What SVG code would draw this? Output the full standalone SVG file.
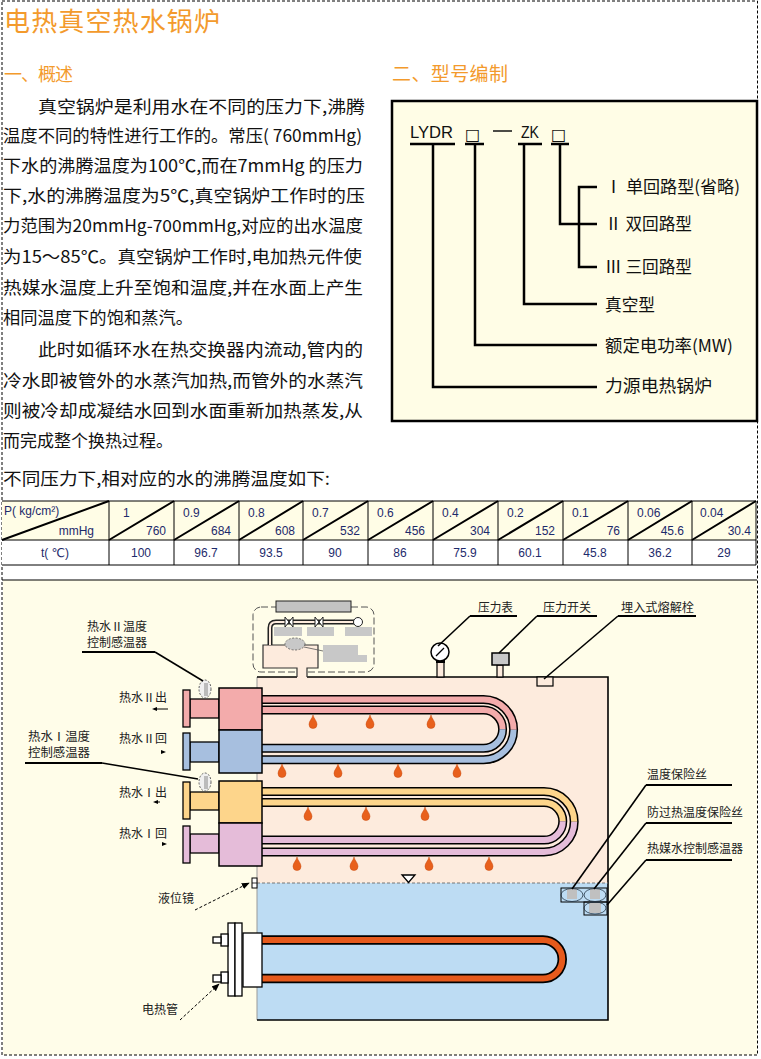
<svg xmlns="http://www.w3.org/2000/svg" width="761" height="1059" viewBox="0 0 761 1059">
<defs>
<style>
.cn{font-family:"Noto Sans CJK SC","Noto Sans",sans-serif;fill:#111;}
.body{font-size:17px;}
.ttl{fill:#f39a2c;}
.sm{font-size:12px;fill:#222;}
.num{font-family:"Liberation Sans","DejaVu Sans",sans-serif;font-size:12px;fill:#1d2a6b;}
.tb{stroke:#000;stroke-width:1;fill:none;}
.diag{stroke:#000;stroke-width:2;}
.ld{stroke:#000;stroke-width:1.6;fill:none;}
.ul{stroke:#000;stroke-width:2.2;fill:none;}
.mb{stroke:#000;stroke-width:2.5;fill:none;}
.dash{stroke:#000;stroke-width:1;stroke-dasharray:3,2;fill:none;}
.box{font-family:"DejaVu Sans",sans-serif;font-size:16px;fill:#111;}
</style>
<path id="drop" d="M0,-7 C1,-3 4,-1 4,2.5 A4,4 0 0 1 -4,2.5 C-4,-1 -1,-3 0,-7 Z" fill="#e8601c" stroke="#c84a10" stroke-width="0.5"/>
<marker id="ah" viewBox="0 0 10 10" refX="9" refY="5" markerWidth="8" markerHeight="8" orient="auto" markerUnits="userSpaceOnUse">
<path d="M0,1 L10,5 L0,9 Z" fill="#000"/>
</marker>
</defs>

<rect x="0" y="0" width="761" height="1059" fill="#fff"/>
<g id="page-border">
<rect x="3" y="580" width="754" height="475" fill="#fffde9"/>
<line x1="2" y1="580" x2="757" y2="580" stroke="#000" stroke-width="1.2"/>
<rect x="2" y="1" width="755.5" height="1054" class="dash"/>
</g>

<g id="section1">
<text class="cn ttl" x="4" y="31" font-size="26" textLength="216" lengthAdjust="spacing">电热真空热水锅炉</text>
<text class="cn ttl" x="4" y="81" font-size="18" textLength="69" lengthAdjust="spacing">一、概述</text>
<text class="cn body" x="38" y="113" textLength="327" lengthAdjust="spacingAndGlyphs">真空锅炉是利用水在不同的压力下,沸腾</text>
<text class="cn body" x="3" y="142" textLength="359" lengthAdjust="spacingAndGlyphs">温度不同的特性进行工作的。常压( 760mmHg)</text>
<text class="cn body" x="3" y="172" textLength="360" lengthAdjust="spacingAndGlyphs">下水的沸腾温度为100℃,而在7mmHg 的压力</text>
<text class="cn body" x="3" y="202" textLength="362" lengthAdjust="spacingAndGlyphs">下,水的沸腾温度为5℃,真空锅炉工作时的压</text>
<text class="cn body" x="3" y="232" textLength="360" lengthAdjust="spacingAndGlyphs">力范围为20mmHg-700mmHg,对应的出水温度</text>
<text class="cn body" x="3" y="263" textLength="359" lengthAdjust="spacingAndGlyphs">为15～85℃。真空锅炉工作时,电加热元件使</text>
<text class="cn body" x="3" y="294" textLength="360" lengthAdjust="spacingAndGlyphs">热媒水温度上升至饱和温度,并在水面上产生</text>
<text class="cn body" x="3" y="324" textLength="190" lengthAdjust="spacingAndGlyphs">相同温度下的饱和蒸汽。</text>
<text class="cn body" x="38" y="356" textLength="325" lengthAdjust="spacingAndGlyphs">此时如循环水在热交换器内流动,管内的</text>
<text class="cn body" x="3" y="387" textLength="360" lengthAdjust="spacingAndGlyphs">冷水即被管外的水蒸汽加热,而管外的水蒸汽</text>
<text class="cn body" x="3" y="417" textLength="360" lengthAdjust="spacingAndGlyphs">则被冷却成凝结水回到水面重新加热蒸发,从</text>
<text class="cn body" x="3" y="447" textLength="170" lengthAdjust="spacingAndGlyphs">而完成整个换热过程。</text>
<text class="cn body" x="3" y="485" textLength="327" lengthAdjust="spacingAndGlyphs">不同压力下,相对应的水的沸腾温度如下:</text>
</g>

<g id="section2">
<text class="cn ttl" x="392" y="81" font-size="19" textLength="116" lengthAdjust="spacing">二、型号编制</text>
<rect x="392" y="101" width="365" height="320" fill="#fffde6" stroke="#000" stroke-width="2.5"/>
<text x="410" y="138" font-family="Liberation Sans,sans-serif" font-size="16" fill="#111" textLength="43" lengthAdjust="spacingAndGlyphs">LYDR</text>
<text class="box" x="465" y="140">□</text>
<line x1="493" y1="131" x2="512" y2="131" stroke="#111" stroke-width="1.5"/>
<text x="521" y="138" font-family="Liberation Sans,sans-serif" font-size="16" fill="#111" textLength="18" lengthAdjust="spacingAndGlyphs">ZK</text>
<text class="box" x="551" y="140">□</text>
<g id="model-lines">
<path class="mb" d="M410,144 H455 M465,144 H484 M518,144 H542 M551,144 H569"/>
<path class="mb" d="M433,144 V387 H597"/>
<path class="mb" d="M475,144 V345 H597"/>
<path class="mb" d="M524,144 V304 H597"/>
<path class="mb" d="M560,144 V224 H597"/>
<path class="mb" d="M597,187 H579 V267 H597"/>
</g>
<text class="cn body" x="605" y="193" textLength="135" lengthAdjust="spacingAndGlyphs">Ⅰ 单回路型(省略)</text>
<text class="cn body" x="605" y="230" textLength="87" lengthAdjust="spacingAndGlyphs">Ⅱ 双回路型</text>
<text class="cn body" x="605" y="273" textLength="87" lengthAdjust="spacingAndGlyphs">Ⅲ 三回路型</text>
<text class="cn body" x="605" y="311" textLength="50" lengthAdjust="spacingAndGlyphs">真空型</text>
<text class="cn body" x="605" y="352" textLength="128" lengthAdjust="spacingAndGlyphs">额定电功率(MW)</text>
<text class="cn body" x="605" y="392" textLength="107" lengthAdjust="spacingAndGlyphs">力源电热锅炉</text>
</g>

<g id="table">
<rect x="2" y="501" width="754" height="39" fill="#fffde6"/>
<rect x="2" y="540" width="754" height="25" fill="#fff"/>
<path class="tb" d="M2,501 H756 M2,540 H756 M2,565 H756 M109,501 V565 M174,501 V565 M239,501 V565 M303,501 V565 M368,501 V565 M433,501 V565 M498,501 V565 M563,501 V565 M628,501 V565 M692,501 V565 M756,501 V565"/>
<path class="diag" d="M2,540 L109,501 M109,540 L174,501 M174,540 L239,501 M239,540 L303,501 M303,540 L368,501 M368,540 L433,501 M433,540 L498,501 M498,540 L563,501 M563,540 L628,501 M628,540 L692,501 M692,540 L756,501"/>
<text class="num" x="4" y="515">P( kg/cm²)</text>
<text class="num" x="94" y="535" text-anchor="end">mmHg</text>
<g class="num">
<text x="123" y="517">1</text><text x="183" y="517">0.9</text><text x="248" y="517">0.8</text><text x="312" y="517">0.7</text><text x="377" y="517">0.6</text><text x="442" y="517">0.4</text><text x="507" y="517">0.2</text><text x="572" y="517">0.1</text><text x="637" y="517">0.06</text><text x="700" y="517">0.04</text>
</g>
<g class="num" text-anchor="end">
<text x="166" y="535">760</text><text x="231" y="535">684</text><text x="295" y="535">608</text><text x="360" y="535">532</text><text x="425" y="535">456</text><text x="490" y="535">304</text><text x="555" y="535">152</text><text x="620" y="535">76</text><text x="684" y="535">45.6</text><text x="751" y="535">30.4</text>
</g>
<g class="num" text-anchor="middle">
<text x="55" y="557">t( ℃)</text>
<text x="141" y="557">100</text><text x="206" y="557">96.7</text><text x="271" y="557">93.5</text><text x="335" y="557">90</text><text x="400" y="557">86</text><text x="465" y="557">75.9</text><text x="530" y="557">60.1</text><text x="595" y="557">45.8</text><text x="660" y="557">36.2</text><text x="724" y="557">29</text>
</g>
</g>

<g id="boiler">
<rect x="257" y="677" width="351" height="206" fill="#fdebdd"/>
<rect x="257" y="883" width="351" height="137" fill="#bddcf3"/>
<line x1="257" y1="677" x2="257" y2="1020" stroke="#999" stroke-width="1"/>
<path d="M257,677 H297 M307,677 H608 V1020 H257" fill="none" stroke="#000" stroke-width="1.6"/>
<line x1="257" y1="883" x2="608" y2="883" stroke="#777" stroke-width="1" stroke-dasharray="3,2"/>
<polygon points="402,875 415,875 408.5,882.5" fill="#fff" stroke="#000" stroke-width="1.3"/>
</g>

<g id="control-box">
<rect x="253" y="607" width="121" height="65" rx="8" fill="none" stroke="#555" stroke-width="1" stroke-dasharray="7,3"/>
<rect x="276" y="601" width="75" height="11" fill="#c3c3c3" stroke="#222" stroke-width="1"/>
<rect x="297" y="666" width="10" height="12" fill="#fdebdd"/>
<rect x="263" y="645" width="55" height="23" fill="#fdebdd"/>
<path d="M297,677 V668 H263 V645 H318 V668 H307 V677" fill="none" stroke="#333" stroke-width="1.2"/>
<path d="M270,645 V628 Q270,622 276,622 H355" fill="none" stroke="#222" stroke-width="5"/>
<path d="M270,645 V628 Q270,622 276,622 H355" fill="none" stroke="#fdebdd" stroke-width="2"/>
<g fill="#fff" stroke="#222" stroke-width="1">
<path d="M285,617 L293,627 L293,617 L285,627 Z"/>
<path d="M315,617 L323,627 L323,617 L315,627 Z"/>
<circle cx="358" cy="622" r="4.5"/>
</g>
<rect x="274" y="627" width="28" height="9" fill="#c8c8c8"/>
<rect x="307" y="627" width="27" height="9" fill="#c8c8c8"/>
<rect x="345" y="627" width="27" height="9" fill="#c8c8c8"/>
<path d="M323,645 H358 V655 H367 V662 H323 Z" fill="#c8c8c8"/>
<line x1="304" y1="647" x2="323" y2="651" stroke="#555" stroke-width="0.8"/>
<ellipse cx="295" cy="644" rx="10" ry="6" fill="#c8c8c8" stroke="#555" stroke-width="0.8" stroke-dasharray="2,1.5"/>
</g>

<g id="pressure-gauge">
<rect x="437" y="662" width="7" height="15" fill="#fdebdd" stroke="#000" stroke-width="1.2"/>
<rect x="436" y="660" width="9" height="3" fill="#000"/>
<circle cx="440" cy="652" r="9" fill="#fff" stroke="#000" stroke-width="1.5"/>
<line x1="436" y1="656" x2="444" y2="648" stroke="#000" stroke-width="1.2"/>
</g>
<g id="pressure-switch">
<rect x="497" y="665" width="6" height="12" fill="#fdebdd" stroke="#000" stroke-width="1.2"/>
<rect x="492" y="653" width="17" height="12" fill="#c8c8c8" stroke="#000" stroke-width="1.5"/>
</g>
<g id="fusible-plug">
<rect x="537" y="677" width="16" height="9" fill="#fdebdd" stroke="#000" stroke-width="1.2"/>
</g>

<g id="coil-upper">
<path d="M262,699.6 H483.5 A30.1,30.1 0 0 1 483.5,759.8 H262" fill="none" stroke="#000" stroke-width="9"/>
<path d="M262,699.6 H483.5 A30.1,30.1 0 0 1 513.6,729.7" fill="none" stroke="#f3abab" stroke-width="6"/>
<path d="M513.6,729.7 A30.1,30.1 0 0 1 483.5,759.8 H262" fill="none" stroke="#a7bfdf" stroke-width="6"/>
<path d="M262,710.1 H483.5 A19.1,19.1 0 0 1 483.5,748.3 H262" fill="none" stroke="#000" stroke-width="9"/>
<path d="M262,710.1 H483.5 A19.1,19.1 0 0 1 502.6,729.2" fill="none" stroke="#f3abab" stroke-width="6"/>
<path d="M502.6,729.2 A19.1,19.1 0 0 1 483.5,748.3 H262" fill="none" stroke="#a7bfdf" stroke-width="6"/>
</g>
<g id="coil-lower">
<path d="M262,791.6 H544 A30.2,30.2 0 0 1 544,852 H262" fill="none" stroke="#000" stroke-width="9"/>
<path d="M262,791.6 H544 A30.2,30.2 0 0 1 574.2,821.8" fill="none" stroke="#fdd58b" stroke-width="6"/>
<path d="M574.2,821.8 A30.2,30.2 0 0 1 544,852 H262" fill="none" stroke="#e5bcd9" stroke-width="6"/>
<path d="M262,802.5 H544 A18.8,18.8 0 0 1 544,840.1 H262" fill="none" stroke="#000" stroke-width="9"/>
<path d="M262,802.5 H544 A18.8,18.8 0 0 1 562.8,821.3" fill="none" stroke="#fdd58b" stroke-width="6"/>
<path d="M562.8,821.3 A18.8,18.8 0 0 1 544,840.1 H262" fill="none" stroke="#e5bcd9" stroke-width="6"/>
</g>
<g id="heater-coil">
<path d="M262,940 H543 A19.25,19.25 0 0 1 543,978.5 H262" fill="none" stroke="#000" stroke-width="9.5"/>
<path d="M262,940 H543 A19.25,19.25 0 0 1 543,978.5 H262" fill="none" stroke="#e65a1c" stroke-width="6"/>
</g>

<g id="droplets">
<use href="#drop" x="313" y="722"/><use href="#drop" x="370" y="722"/><use href="#drop" x="431" y="722"/>
<use href="#drop" x="282" y="771"/><use href="#drop" x="338" y="771"/><use href="#drop" x="398" y="771"/><use href="#drop" x="457" y="771"/>
<use href="#drop" x="308" y="814"/><use href="#drop" x="366" y="814"/><use href="#drop" x="425" y="814"/>
<use href="#drop" x="297" y="864"/><use href="#drop" x="354" y="864"/><use href="#drop" x="429" y="864"/><use href="#drop" x="489" y="864"/>
</g>

<g id="header-II-out">
<rect x="190" y="699" width="29" height="19" fill="#f3abab" stroke="#000" stroke-width="1.3"/>
<rect x="183" y="690" width="7" height="37" fill="#f3abab" stroke="#000" stroke-width="1.3"/>
<rect x="219" y="688" width="43" height="42" fill="#f3abab" stroke="#000" stroke-width="1.5"/>
</g>
<g id="header-II-return">
<rect x="190" y="742" width="29" height="20" fill="#a7bfdf" stroke="#000" stroke-width="1.3"/>
<rect x="183" y="733" width="7" height="37" fill="#a7bfdf" stroke="#000" stroke-width="1.3"/>
<rect x="219" y="730" width="43" height="43" fill="#a7bfdf" stroke="#000" stroke-width="1.5"/>
</g>
<g id="header-I-out">
<rect x="190" y="792" width="29" height="18" fill="#fdd58b" stroke="#000" stroke-width="1.3"/>
<rect x="183" y="782" width="7" height="37" fill="#fdd58b" stroke="#000" stroke-width="1.3"/>
<rect x="219" y="781" width="43" height="42" fill="#fdd58b" stroke="#000" stroke-width="1.5"/>
</g>
<g id="header-I-return">
<rect x="190" y="834" width="29" height="19" fill="#e5bcd9" stroke="#000" stroke-width="1.3"/>
<rect x="183" y="826" width="7" height="37" fill="#e5bcd9" stroke="#000" stroke-width="1.3"/>
<rect x="219" y="823" width="43" height="43" fill="#e5bcd9" stroke="#000" stroke-width="1.5"/>
</g>

<g id="sensor-II">
<ellipse cx="205" cy="689" rx="6" ry="9" fill="#f0f0f0" stroke="#555" stroke-width="0.9" stroke-dasharray="2,1.5"/>
<rect x="204" y="683" width="4" height="13" fill="#bbb"/>
</g>
<g id="sensor-I">
<ellipse cx="205" cy="782" rx="6" ry="9" fill="#f0f0f0" stroke="#555" stroke-width="0.9" stroke-dasharray="2,1.5"/>
<rect x="204" y="776" width="4" height="13" fill="#bbb"/>
</g>

<g id="level-gauge">
<rect x="252" y="878" width="5" height="10" fill="#fff" stroke="#000" stroke-width="1"/>
<line x1="252" y1="883" x2="257" y2="883" stroke="#000" stroke-width="0.8"/>
</g>

<g id="heater-flange" fill="#fff" stroke="#000" stroke-width="1.3">
<rect x="243" y="933" width="19" height="54"/>
<rect x="228" y="923" width="7" height="73"/>
<rect x="235" y="923" width="7" height="73"/>
<rect x="221" y="934" width="7" height="12"/>
<rect x="221" y="972" width="7" height="11"/>
<rect x="213" y="937" width="8" height="6"/>
<rect x="213" y="975" width="8" height="7"/>
</g>

<g id="fuse-box">
<rect x="561" y="888" width="46" height="14" fill="none" stroke="#000" stroke-width="1"/>
<rect x="584" y="902" width="23" height="13" fill="none" stroke="#000" stroke-width="1"/>
<rect x="567" y="889" width="10" height="10" fill="#c0c0c0"/>
<rect x="590" y="889" width="10" height="10" fill="#c0c0c0"/>
<rect x="589" y="903" width="12" height="10" fill="#c0c0c0"/>
<ellipse cx="572" cy="895" rx="11" ry="6.5" fill="none" stroke="#234" stroke-width="0.8"/>
<ellipse cx="595" cy="895" rx="11" ry="6.5" fill="none" stroke="#234" stroke-width="0.8"/>
<ellipse cx="595" cy="908" rx="11" ry="6" fill="none" stroke="#234" stroke-width="0.8"/>
</g>

<g id="connectors">
<path class="ld" d="M470,616 L438,646"/>
<path class="ul" d="M470,616 H517"/>
<path class="ld" d="M537,616 L499,653"/>
<path class="ul" d="M537,616 H597"/>
<path class="ld" d="M618,616 L544,679"/>
<path class="ul" d="M618,616 H696"/>
<path class="ul" d="M82,652 H155"/>
<path class="ld" d="M155,652 L203,681"/>
<path class="ul" d="M25,763 H102"/>
<path class="ld" d="M102,763 L198,779"/>
<path class="ul" d="M646,785 H732"/>
<path class="ld" d="M646,785 L572,889"/>
<path class="ul" d="M646,823 H732"/>
<path class="ld" d="M646,823 L594,889"/>
<path class="ul" d="M646,860 H732"/>
<path class="ld" d="M646,860 L607,905"/>
<path d="M195,910 L249,883" fill="none" stroke="#000" stroke-width="1" stroke-dasharray="3,2" marker-end="url(#ah)"/>
<path d="M180,1020 L219,984" fill="none" stroke="#000" stroke-width="1" stroke-dasharray="3,2" marker-end="url(#ah)"/>
<path d="M168,709 H156" stroke="#000" stroke-width="1" fill="none"/>
<path d="M152,709 L157,707 L157,711 Z" fill="#000"/>
<path d="M161,750 L166,752 L161,754 Z" fill="#000"/>
<path d="M160,802 H157" stroke="#000" stroke-width="1"/>
<path d="M153,802 L158,800 L158,804 Z" fill="#000"/>
<path d="M162,842 L167,844 L162,846 Z" fill="#000"/>
</g>

<g id="labels">
<text class="cn sm" x="87" y="631" textLength="60" lengthAdjust="spacingAndGlyphs">热水Ⅱ温度</text>
<text class="cn sm" x="87" y="647" textLength="60" lengthAdjust="spacingAndGlyphs">控制感温器</text>
<text class="cn sm" x="28" y="741" textLength="62" lengthAdjust="spacingAndGlyphs">热水Ⅰ温度</text>
<text class="cn sm" x="28" y="757" textLength="62" lengthAdjust="spacingAndGlyphs">控制感温器</text>
<text class="cn sm" x="119" y="702" textLength="48" lengthAdjust="spacingAndGlyphs">热水Ⅱ出</text>
<text class="cn sm" x="119" y="743" textLength="48" lengthAdjust="spacingAndGlyphs">热水Ⅱ回</text>
<text class="cn sm" x="119" y="797" textLength="48" lengthAdjust="spacingAndGlyphs">热水Ⅰ出</text>
<text class="cn sm" x="119" y="838" textLength="48" lengthAdjust="spacingAndGlyphs">热水Ⅰ回</text>
<text class="cn sm" x="158" y="903" textLength="36" lengthAdjust="spacingAndGlyphs">液位镜</text>
<text class="cn sm" x="142" y="1014" textLength="36" lengthAdjust="spacingAndGlyphs">电热管</text>
<text class="cn sm" x="478" y="612" textLength="35" lengthAdjust="spacingAndGlyphs">压力表</text>
<text class="cn sm" x="543" y="612" textLength="48" lengthAdjust="spacingAndGlyphs">压力开关</text>
<text class="cn sm" x="621" y="612" textLength="73" lengthAdjust="spacingAndGlyphs">埋入式熔解栓</text>
<text class="cn sm" x="647" y="779" textLength="60" lengthAdjust="spacingAndGlyphs">温度保险丝</text>
<text class="cn sm" x="647" y="817" textLength="96" lengthAdjust="spacingAndGlyphs">防过热温度保险丝</text>
<text class="cn sm" x="647" y="853" textLength="96" lengthAdjust="spacingAndGlyphs">热媒水控制感温器</text>
</g>
</svg>
